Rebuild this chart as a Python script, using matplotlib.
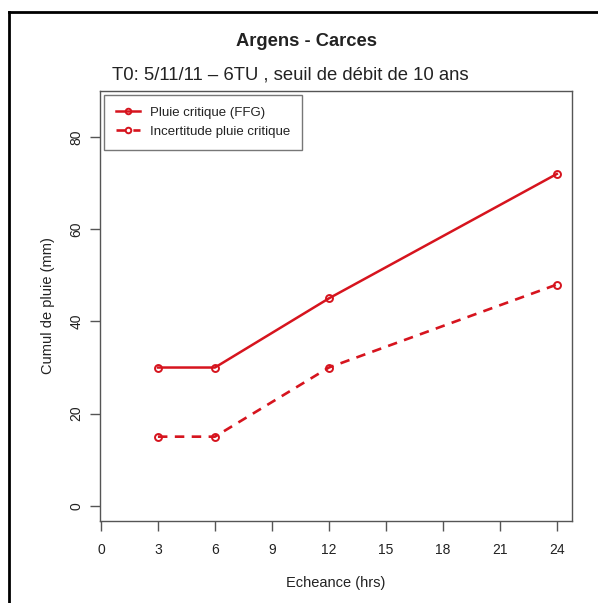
import matplotlib
matplotlib.use("Agg")
import matplotlib.pyplot as plt
from matplotlib.lines import Line2D

plt.rcParams['font.family'] = ['Liberation Sans', 'DejaVu Sans']

hours = [3, 6, 12, 24]
pluie_critique = [30, 30, 45, 72]
incertitude = [15, 15, 30, 48]
x_ticks = [0, 3, 6, 9, 12, 15, 18, 21, 24]
y_ticks = [0, 20, 40, 60, 80]

red = '#d6141e'
axcol = '#555555'
txtcol = '#222222'

fig = plt.figure(figsize=(5.98, 6.03), dpi=100)
W, H = 598, 603
ax = fig.add_axes([100 / W, 1 - 521 / H, (572 - 100) / W, (521 - 91) / H])

ax.plot(hours, pluie_critique, color=red, lw=1.8, marker='o', ms=5,
        mfc='none', mew=1.4, label='Pluie critique (FFG)')
ax.plot(hours, incertitude, color=red, lw=1.9, ls=(0, (3.6, 2.8)), marker='o', ms=5,
        mfc='none', mew=1.4, label='Incertitude pluie critique')

ax.set_xlim(-0.05, 24.8)
ax.set_ylim(-3.3, 90)
ax.set_xticks(x_ticks)
ax.set_yticks(y_ticks)
ax.set_yticklabels([str(v) for v in y_ticks], rotation=90, va='center')
ax.tick_params(axis='both', colors=axcol, labelcolor=txtcol, labelsize=10,
               length=7.5, width=1)
ax.tick_params(axis='x', pad=8)
ax.tick_params(axis='y', pad=4.5)
for s in ax.spines.values():
    s.set_color(axcol)
    s.set_linewidth(1)

ax.set_xlabel('Echeance (hrs)', fontsize=10.5, color=txtcol, labelpad=14)
ax.set_ylabel('Cumul de pluie (mm)', fontsize=10.5, color=txtcol, labelpad=10.5)

leg = ax.legend(loc='upper left', fontsize=9.5, frameon=True, fancybox=False,
                edgecolor=axcol, bbox_to_anchor=(4 / 472, 1 - 4 / 430),
                borderaxespad=0, handlelength=1.8, handletextpad=0.75,
                labelspacing=0.5, borderpad=0.9, markerscale=0.8)
leg.get_frame().set_linewidth(1)
for t in leg.get_texts():
    t.set_color(txtcol)

fig.text(306 / W, 1 - 45.5 / H, 'Argens - Carces', ha='center', va='baseline',
         fontsize=13.2, fontweight='bold', color=txtcol)
fig.text(290 / W, 1 - 80 / H, 'T0: 5/11/11 \u2013 6TU , seuil de débit de 10 ans',
         ha='center', va='baseline', fontsize=13.3, color=txtcol)

# outer frame (left and top edges)
fig.add_artist(Line2D([9 / W, 9 / W], [0, 1 - 12 / H], color='black', lw=2,
                      transform=fig.transFigure))
fig.add_artist(Line2D([9 / W, 1], [1 - 12 / H, 1 - 12 / H], color='black', lw=2,
                      transform=fig.transFigure))

fig.savefig('out.png', dpi=100)
